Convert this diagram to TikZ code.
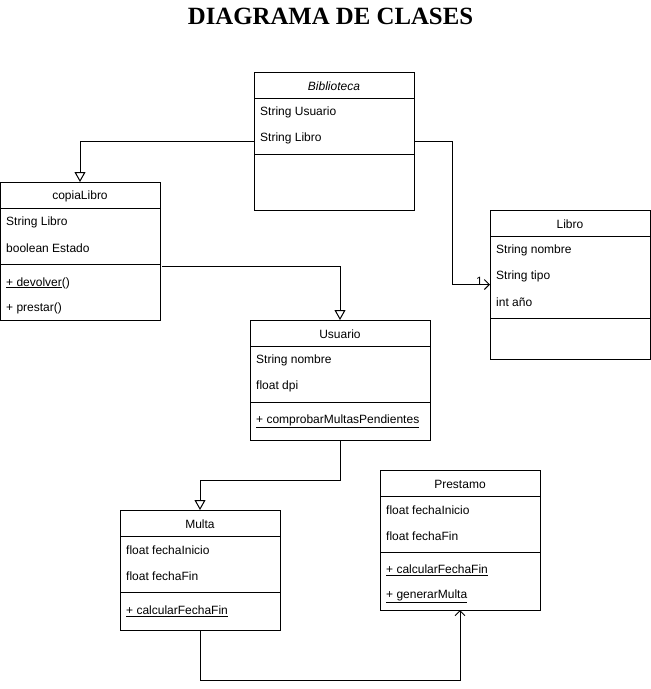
\documentclass[tikz,border=0pt]{standalone}
\usepackage{fontspec}
\setmainfont{Liberation Serif}
\newfontfamily\arialf{Liberation Sans}
\usetikzlibrary{arrows.meta}
\begin{document}
\begin{tikzpicture}[x=1pt,y=-1pt,
  cls/.style={draw, line width=1pt, anchor=north west, inner sep=0pt, outer sep=0pt},
  txt/.style={anchor=west, inner sep=0pt, yshift=-1pt, font=\arialf\fontsize{12}{14}\selectfont},
  hdr/.style={anchor=center, inner sep=0pt, yshift=-1pt, font=\arialf\fontsize{12}{14}\selectfont},
  sep/.style={line width=1pt},
  conn/.style={line width=1pt},
  inh/.style={conn, -{Triangle[open, length=10pt, width=11pt]}},
  assoc/.style={conn, -{Straight Barb[length=5pt, width=10pt]}}
]
\useasboundingbox (0,0) rectangle (651,689);

\node[anchor=base, inner sep=0pt, font=\bfseries\fontsize{24.8}{28}\selectfont] (title) at (330.5,24) {DIAGRAMA DE CLASES};

% Biblioteca
\node[cls, minimum width=160pt, minimum height=138pt] (bib) at (254,72) {};
\draw[sep] (254,98) -- (414,98);
\draw[sep] (254,154) -- (414,154);
\node[hdr] (bibh) at (334,85) {\itshape Biblioteca};
\node[txt] (biba1) at (260,111) {String Usuario};
\node[txt] (biba2) at (260,137) {String Libro};

% copiaLibro
\node[cls, minimum width=160pt, minimum height=138pt] (copia) at (0,182) {};
\draw[sep] (0,208) -- (160,208);
\draw[sep] (0,264) -- (160,264);
\node[hdr] (copiah) at (80,195) {copiaLibro};
\node[txt] (copiaa1) at (6,221) {String Libro};
\node[txt] (copiaa2) at (6,247) {boolean Estado};
\node[txt] (copiam1) at (6,282) {\underline{+ devolver}()};
\node[txt] (copiam2) at (6,307) {+ prestar()};

% Libro
\node[cls, minimum width=160pt, minimum height=149pt] (libro) at (490,210) {};
\draw[sep] (490,236) -- (650,236);
\draw[sep] (490,318) -- (650,318);
\node[hdr] (libroh) at (570,223) {Libro};
\node[txt] (libroa1) at (496,249) {String nombre};
\node[txt] (libroa2) at (496,275) {String tipo};
\node[txt] (libroa3) at (496,301) {int año};

% Usuario
\node[cls, minimum width=180pt, minimum height=120pt] (usu) at (250,320) {};
\draw[sep] (250,346) -- (430,346);
\draw[sep] (250,402) -- (430,402);
\node[hdr] (usuh) at (340,333) {Usuario};
\node[txt] (usua1) at (256,359) {String nombre};
\node[txt] (usua2) at (256,385) {float dpi};
\node[txt] (usum1) at (256,420) {\underline{+ comprobarMultasPendientes}};

% Multa
\node[cls, minimum width=160pt, minimum height=120pt] (multa) at (120,510) {};
\draw[sep] (120,536) -- (280,536);
\draw[sep] (120,592) -- (280,592);
\node[hdr] (multah) at (200,523) {Multa};
\node[txt] (multaa1) at (126,549) {float fechaInicio};
\node[txt] (multaa2) at (126,575) {float fechaFin};
\node[txt] (multam1) at (126,610) {\underline{+ calcularFechaFin}};

% Prestamo
\node[cls, minimum width=160pt, minimum height=140pt] (pres) at (380,470) {};
\draw[sep] (380,496) -- (540,496);
\draw[sep] (380,552) -- (540,552);
\node[hdr] (presh) at (460,483) {Prestamo};
\node[txt] (presa1) at (386,509) {float fechaInicio};
\node[txt] (presa2) at (386,535) {float fechaFin};
\node[txt] (presm1) at (386,569) {\underline{+ calcularFechaFin}};
\node[txt] (presm2) at (386,595) {\underline{+ generarMulta}};

% connectors
\draw[inh] (bib.west) -| (copia.north);
\draw[assoc] (bib.east) -- ++(38,0) |- (libro.west);
\node[anchor=base east, inner sep=0pt, font=\arialf\fontsize{12}{14}\selectfont] (one) at (483,285) {1};
\coordinate (cstart) at (162,266);
\draw[inh] (cstart) -| (usu.north);
\draw[inh] (usu.south) -- ++(0,40) -| (multa.north);
\draw[assoc] (multa.south) -- ++(0,50) -| (pres.south);
\end{tikzpicture}
\end{document}
